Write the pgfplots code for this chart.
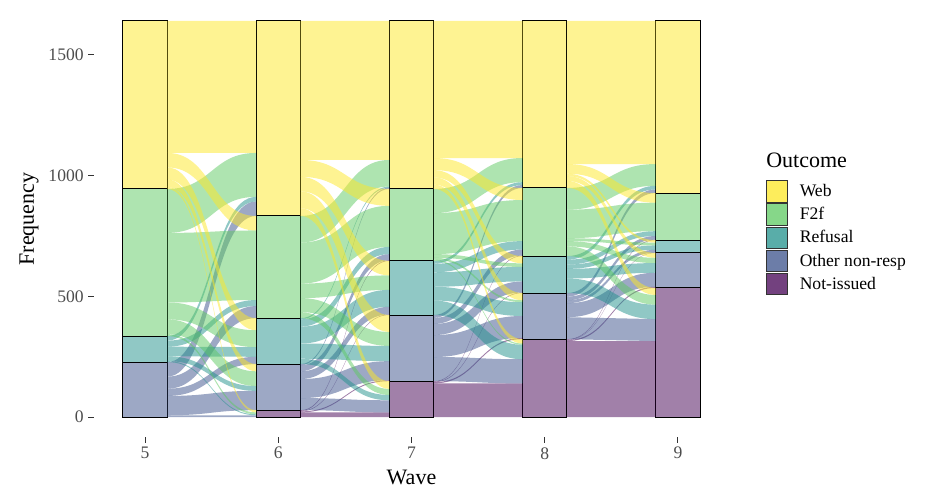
\documentclass[border=0pt]{standalone}
\usepackage{pgfplots}
\usepackage{pgfplotstable}
\pgfplotsset{compat=1.18}
\usepackage{fontspec}
\setmainfont{Liberation Serif}

\definecolor{cWeb}{HTML}{FDE725}
\definecolor{cF2f}{HTML}{5EC962}
\definecolor{cRef}{HTML}{21918C}
\definecolor{cOth}{HTML}{3B528B}
\definecolor{cNI}{HTML}{440154}
\definecolor{ticktext}{HTML}{4D4D4D}
\definecolor{tickline}{HTML}{333333}

% respondents in each outcome per wave (bottom of the stack first)
\pgfplotstableread{
wave NI  Oth Ref F2f Web
5    0   228 108 609 696
6    29  191 190 423 808
7    149 274 224 298 696
8    323 191 153 282 692
9    535 145 53  195 713
}\strata

% transitions: row = outcome at wave w, column = outcome at wave w+1
% (both in the order Web, F2f, Refusal, Other non-resp, Not-issued)
\pgfplotstableread{
Web F2f Ref Oth NI
547 60  50  30  9
182 288 70  61  8
19  25  40  20  4
60  50  30  80  8
0   0   0   0   0
}\flowA
\pgfplotstableread{
Web F2f Ref Oth NI
576 70  60  70  32
110 170 60  58  25
5   30  70  63  22
5   25  32  79  50
0   3   2   4   20
}\flowB
\pgfplotstableread{
Web F2f Ref Oth NI
568 50  30  30  18
100 170 15  8   5
12  35  60  57  60
12  25  46  91  100
0   2   2   5   140
}\flowC
\pgfplotstableread{
Web F2f Ref Oth NI
593 40  10  20  29
90  118 12  22  40
15  20  18  40  60
15  15  12  58  91
0   2   1   5   315
}\flowD

\newcommand\flowcolor[1]{\ifcase#1 cWeb\or cF2f\or cRef\or cOth\or cNI\fi}

% ribbons between wave #2 and wave #2+1, from flow table #1
\newcommand\drawflows[2]{%
  \pgfmathsetmacro\xl{#2+1/6}%
  \pgfmathsetmacro\xr{#2+5/6}%
  \pgfmathsetmacro\xm{#2+1/2}%
  % top of each outcome on the right-hand side
  \xdef\facc{1641}%
  \foreach \j in {0,...,4}{%
    \expandafter\xdef\csname rt\j\endcsname{\facc}%
    \foreach \i in {0,...,4}{%
      \pgfplotstablegetelem{\i}{[index]\j}\of#1%
      \pgfmathsetmacro\ftmp{\facc-\pgfplotsretval}%
      \xdef\facc{\ftmp}%
    }%
  }%
  \xdef\flt{1641}%
  \foreach \i in {0,...,4}{%
    \foreach \j in {0,...,4}{%
      \pgfplotstablegetelem{\i}{[index]\j}\of#1%
      \edef\fn{\pgfplotsretval}%
      \edef\frt{\csname rt\j\endcsname}%
      \pgfmathsetmacro\flb{\flt-\fn}%
      \pgfmathsetmacro\frb{\frt-\fn}%
      \ifnum\fn>0
        \edef\fcol{\flowcolor{\i}}%
        \edef\temp{\noexpand\fill[\fcol,fill opacity=0.5]
          (axis cs:\xl,\flt) .. controls (axis cs:\xm,\flt) and (axis cs:\xm,\frt) .. (axis cs:\xr,\frt)
          -- (axis cs:\xr,\frb) .. controls (axis cs:\xm,\frb) and (axis cs:\xm,\flb) .. (axis cs:\xl,\flb) -- cycle;}%
        \temp
      \fi
      \expandafter\xdef\csname rt\j\endcsname{\frb}%
      \xdef\flt{\flb}%
    }%
  }%
}

\newcommand\outkey[2]{%
  \addlegendimage{legend image code/.code={\draw[fill=#1,fill opacity=0.75,draw=black!80,line width=0.6pt] (0pt,-8pt) rectangle (15.5pt,8pt);}}%
  \addlegendentry{#2}}

\tikzset{stratum/.style={fill=#1,fill opacity=0.5,draw=black,line width=0.75pt}}

\begin{document}
\begin{tikzpicture}
\path[use as bounding box] (-70.5pt,-44.25pt) rectangle (633pt,327.75pt);
\begin{axis}[
  at={(0pt,0pt)}, anchor=south west,
  scale only axis, width=476.25pt, height=327pt,
  xmin=4.6167, xmax=9.3833, ymin=-82, ymax=1723,
  ybar stacked, bar width=0.3333,
  clip=false,
  axis line style={draw=none},
  tick pos=left, tick align=outside,
  major tick length=4.2pt,
  major tick style={draw=tickline,line width=0.8pt},
  xtick={5,6,7,8,9}, ytick={0,500,1000,1500},
  /pgf/number format/assume math mode=true,
  /pgf/number format/1000 sep={},
  xticklabel={\pgfmathprintnumber{\tick}},
  yticklabel={\pgfmathprintnumber{\tick}},
  ticklabel style={font=\fontsize{13.2}{15}\selectfont,text=ticktext},
  label style={font=\fontsize{16.5}{19}\selectfont},
  xlabel={Wave}, ylabel={Frequency},
  xlabel style={at={(axis description cs:0.5,-0.0917)},anchor=center},
  ylabel style={at={(axis description cs:-0.1024,0.5)},anchor=center},
  legend style={at={(rel axis cs:1.0583,0.5894)},anchor=north west,draw=none,fill=none,
    inner sep=0pt,row sep=0.8pt,font=\fontsize{13.2}{15}\selectfont,
    nodes={inner ysep=0.85pt,inner xsep=3pt},
    /tikz/every even column/.append style={column sep=0pt},
    /tikz/every odd column/.append style={column sep=6pt}},
  legend cell align=left,
]
\outkey{cWeb}{Web}
\outkey{cF2f}{F2f}
\outkey{cRef}{Refusal}
\outkey{cOth}{Other non-resp}
\outkey{cNI}{Not-issued}

\drawflows{\flowA}{5}
\drawflows{\flowB}{6}
\drawflows{\flowC}{7}
\drawflows{\flowD}{8}

\addplot[stratum=cNI]  table[x=wave,y=NI]  {\strata};
\addplot[stratum=cOth] table[x=wave,y=Oth] {\strata};
\addplot[stratum=cRef] table[x=wave,y=Ref] {\strata};
\addplot[stratum=cF2f] table[x=wave,y=F2f] {\strata};
\addplot[stratum=cWeb] table[x=wave,y=Web] {\strata};

\node[anchor=west,inner sep=0pt,font=\fontsize{16.5}{19}\selectfont] at (rel axis cs:1.0583,0.6353) {Outcome};
\end{axis}
\end{tikzpicture}
\end{document}
